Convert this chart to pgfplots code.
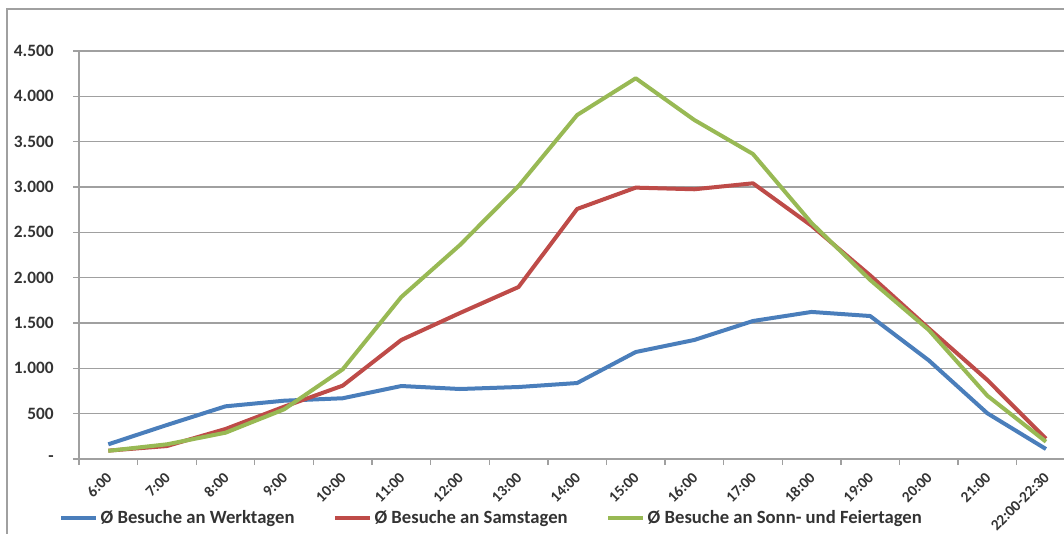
\documentclass[border=0pt]{standalone}
\usepackage{fontspec}
\setmainfont{Carlito}
\usepackage{pgfplots}
\pgfplotsset{compat=1.18}
\definecolor{cblue}{HTML}{4A7EBB}
\definecolor{cred}{HTML}{BE4B48}
\definecolor{cgreen}{HTML}{98B954}
\definecolor{gridc}{HTML}{A0A0A0}
\pgfplotstableread{
x werk sams sonn
0 162 92 90
1 375 143 162
2 581 331 290
3 643 577 548
4 670 809 989
5 805 1313 1787
6 772 1610 2360
7 794 1897 3011
8 838 2758 3794
9 1180 2993 4199
10 1313 2975 3739
11 1522 3041 3364
12 1622 2573 2603
13 1577 2025 1975
14 1088 1441 1423
15 504 871 698
16 110 224 191
}\datatable
\begin{document}
\begin{tikzpicture}
\begin{axis}[
  scale only axis, width=747.2pt, height=306pt,
  at={(59.25pt,55.5pt)}, anchor=south west,
  xmin=-0.5, xmax=16.5, ymin=0, ymax=4500,
  axis x line*=bottom, axis y line*=left,
  axis line style={gridc, line width=1pt},
  xtick={-0.5,0.5,...,16.5}, x tick label as interval,
  xticklabels={6:00,7:00,8:00,9:00,10:00,11:00,12:00,13:00,14:00,15:00,16:00,17:00,18:00,19:00,20:00,21:00,22:00-22:30},
  ytick={0,500,...,4500},
  yticklabels={-,500,1.000,1.500,2.000,2.500,3.000,3.500,4.000,4.500},
  ymajorgrids, grid style={gridc, line width=1pt},
  tick align=outside, major tick length=4.5pt,
  tick style={gridc, line width=1pt},
  xticklabel style={yshift=-5pt, xshift=3pt, font=\bfseries\fontsize{11.5}{12}\selectfont, rotate=45, anchor=east, text=black!80},
  yticklabel style={xshift=-11pt, font=\bfseries\fontsize{13}{14}\selectfont, text=black!80},
  legend columns=3,
  legend style={at={(-0.02,-0.145)}, anchor=west, draw=none, fill=none, inner sep=0pt,
    font=\bfseries\fontsize{14}{16}\selectfont, text=black!80,
    /tikz/every even column/.append style={column sep=27pt}},
  legend image code/.code={\draw[#1] (0pt,0pt) -- (26pt,0pt);},
  every axis plot/.append style={line width=3pt, line join=round},
]
\addplot[cblue] table[x=x,y=werk] {\datatable};
\addlegendentry{Ø Besuche an Werktagen}
\addplot[cred] table[x=x,y=sams] {\datatable};
\addlegendentry{Ø Besuche an Samstagen}
\addplot[cgreen] table[x=x,y=sonn] {\datatable};
\addlegendentry{Ø Besuche an Sonn- und Feiertagen}
\end{axis}
\draw[gridc, line width=1pt] (5.25pt,-5pt) -- (5.25pt,393pt) -- (805pt,393pt);
\pgfresetboundingbox
\useasboundingbox (0,0) rectangle (798pt,399.75pt);
\end{tikzpicture}
\end{document}
